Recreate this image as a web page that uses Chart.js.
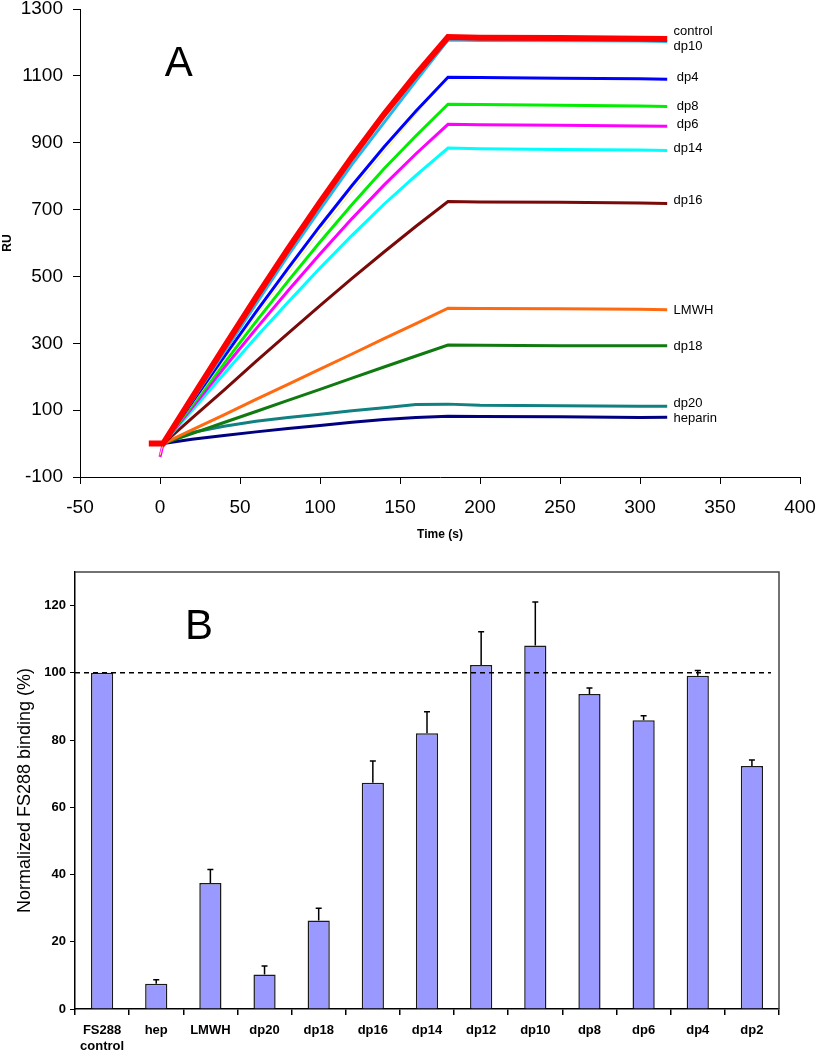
<!DOCTYPE html>
<html lang="en">
<head>
<meta charset="UTF-8">
<title>FS288 binding</title>
<script src="https://cdn.jsdelivr.net/npm/chart.js"></script>
<style>
  body { margin: 0; background: #fff; }
  canvas { display: block; }
</style>
</head>
<body>
<canvas id="sprChart" width="819" height="545"></canvas>
<canvas id="barChart" width="819" height="505"></canvas>
<script>
const FONT = '"Liberation Sans", Arial, sans-serif';

// Panel A: sensorgrams, time (s) vs response (RU)
const times   = [-7, 0, 2, 20, 40, 60, 80, 100, 120, 140, 160, 180, 200, 250, 300, 317];
const control = [0, 0, 0, 137, 288, 437, 582, 722, 857, 985, 1104, 1216, 1214, 1213, 1211, 1210];
const dp10    = [null, null, 0, 128, 272, 418, 562, 700, 835, 960, 1085, 1207, 1206, 1205, 1204, 1203];
const dp4     = [null, null, 0, 123, 259, 394, 524, 651, 772, 887, 995, 1096, 1095, 1093, 1091, 1090];
const dp12    = [null, -35, 0, 116, 248, 380, 508, 633, 755, 872, 985, 1094, 1093, 1092, 1090, 1089];
const dp8     = [null, null, 0, 114, 240, 365, 486, 603, 715, 822, 921, 1015, 1014, 1012, 1010, 1008];
const dp6     = [null, -40, 0, 107, 226, 343, 457, 567, 673, 773, 867, 955, 954, 952, 950, 949];
const dp14    = [null, null, 0, 99, 209, 318, 423, 525, 623, 716, 802, 884, 882, 880, 878, 877];
const dp16    = [null, null, 0, 76, 160, 246, 330, 413, 494, 573, 650, 724, 723, 722, 720, 718];
const lmwh    = [null, null, 0, 41, 86, 132, 177, 223, 268, 314, 359, 405, 404, 403, 402, 400];
const dp18    = [null, null, 0, 30, 63, 96, 129, 162, 196, 229, 262, 295, 294, 293, 293, 293];
const dp20    = [null, null, 0, 33, 52, 67, 78, 88, 98, 107, 117, 118, 115, 113, 112, 112];
const heparin = [null, null, 0, 13, 24, 35, 45, 54, 64, 72, 78, 82, 81, 80, 78, 79];

const seriesValues = [control, dp10, dp4, dp12, dp8, dp6, dp14, dp16, lmwh, dp18, dp20, heparin];
const seriesNames  = ['control', 'dp10', 'dp4', '', 'dp8', 'dp6', 'dp14', 'dp16', 'LMWH', 'dp18', 'dp20', 'heparin'];
const seriesColors = ['#ff0000', '#22b8ee', '#0000ff', '#f2ee7a', '#00ee00', '#ff00ff', '#00ffff',
                      '#7a0a0a', '#ff6a10', '#107a10', '#108080', '#000080'];
const seriesWidths = [6, 3, 3, 1, 3, 3, 3, 3, 3, 3, 3, 3];
// where the end labels sit (time, RU)
const labelTime = [321, 321, 323, 0, 323, 323, 321, 321, 321, 321, 321, 321];
const labelRU   = [1232, 1188, 1094, 0, 1009, 956, 883, 726, 398, 291, 121, 75];

// Panel B: normalized binding
const samples    = [['FS288', 'control'], 'hep', 'LMWH', 'dp20', 'dp18', 'dp16', 'dp14',
                    'dp12', 'dp10', 'dp8', 'dp6', 'dp4', 'dp2'];
const binding    = [100, 7.5, 37.5, 10.3, 26.3, 67.3, 82.0, 102.3, 108.1, 93.7, 85.9, 99.1, 72.3];
const bindingErr = [0, 1.2, 4.0, 2.5, 3.7, 6.5, 6.4, 9.9, 13.0, 1.8, 1.3, 1.6, 1.8];

const panelA = {
  id: 'panelA',
  afterDatasetsDraw(chart) {
    const { ctx, scales: { x, y } } = chart;
    ctx.save();
    ctx.fillStyle = '#000';
    ctx.textBaseline = 'middle';
    ctx.font = '13px ' + FONT;
    seriesNames.forEach((name, i) => {
      if (!name) return;
      ctx.fillText(name, x.getPixelForValue(labelTime[i]), y.getPixelForValue(labelRU[i]));
    });
    ctx.textBaseline = 'alphabetic';
    ctx.font = '42px ' + FONT;
    ctx.fillText('A', x.getPixelForValue(3), y.getPixelForValue(1100));
    ctx.restore();
  }
};

const panelB = {
  id: 'panelB',
  afterDatasetsDraw(chart) {
    const { ctx, chartArea: a, scales: { y } } = chart;
    const bars = chart.getDatasetMeta(0).data;
    ctx.save();
    ctx.strokeStyle = '#000';
    ctx.lineWidth = 1.5;
    bars.forEach((bar, i) => {
      if (!bindingErr[i]) return;
      const top = y.getPixelForValue(binding[i] + bindingErr[i]);
      ctx.beginPath();
      ctx.moveTo(bar.x, bar.y);
      ctx.lineTo(bar.x, top);
      ctx.moveTo(bar.x - 3, top);
      ctx.lineTo(bar.x + 3, top);
      ctx.stroke();
    });
    // reference line at 100 %
    const y100 = y.getPixelForValue(100);
    ctx.setLineDash([5, 4]);
    ctx.beginPath();
    ctx.moveTo(a.left, y100);
    ctx.lineTo(a.right - 8, y100);
    ctx.stroke();
    ctx.setLineDash([]);
    // frame top and right
    ctx.strokeStyle = '#444';
    ctx.beginPath();
    ctx.moveTo(a.left, a.top);
    ctx.lineTo(a.right, a.top);
    ctx.lineTo(a.right, a.bottom);
    ctx.stroke();
    ctx.fillStyle = '#000';
    ctx.font = '42px ' + FONT;
    ctx.fillText('B', a.left + 110, y.getPixelForValue(110));
    ctx.restore();
  }
};

new Chart(document.getElementById('sprChart'), {
  type: 'line',
  data: {
    datasets: seriesValues.map((vals, i) => ({
      label: seriesNames[i] || 'dp12',
      data: times.map((t, j) => ({ x: t, y: vals[j] })),
      borderColor: seriesColors[i],
      borderWidth: seriesWidths[i],
      pointRadius: 0,
      tension: 0,
      fill: false
    }))
  },
  options: {
    responsive: false,
    animation: false,
    layout: { autoPadding: false, padding: { top: 9, right: 19, left: 0, bottom: 0 } },
    plugins: { legend: { display: false }, tooltip: { enabled: false } },
    scales: {
      x: {
        type: 'linear', min: -50, max: 400,
        ticks: { stepSize: 50, color: '#000', font: { family: FONT, size: 19 }, padding: 12,
                 maxRotation: 0, callback: v => String(v) },
        grid: { drawOnChartArea: false, tickLength: 7, color: '#000' },
        border: { color: '#000', width: 1 },
        title: { display: true, text: 'Time (s)', color: '#000',
                 font: { family: FONT, size: 12, weight: 'bold' }, padding: { top: 0, bottom: 3 } },
        afterFit: s => { s.height = 68; s.paddingLeft = 0; s.paddingRight = 0; }
      },
      y: {
        min: -100, max: 1300,
        ticks: { stepSize: 200, color: '#000', font: { family: FONT, size: 19 }, padding: 10,
                 callback: v => String(v) },
        grid: { drawOnChartArea: false, tickLength: 7, color: '#000' },
        border: { color: '#000', width: 1 },
        title: { display: true, text: 'RU', color: '#000',
                 font: { family: FONT, size: 12, weight: 'bold' }, padding: { top: 0, bottom: 0 } },
        afterFit: s => { s.width = 80; s.paddingTop = 0; s.paddingBottom = 0; }
      }
    }
  },
  plugins: [panelA]
});

new Chart(document.getElementById('barChart'), {
  type: 'bar',
  data: {
    labels: samples,
    datasets: [{
      data: binding,
      backgroundColor: '#9999ff',
      borderColor: '#1a1a1a',
      borderWidth: 1.5,
      categoryPercentage: 1,
      barPercentage: 0.41
    }]
  },
  options: {
    responsive: false,
    animation: false,
    layout: { autoPadding: false, padding: { top: 27, right: 40, left: 0, bottom: 0 } },
    plugins: { legend: { display: false }, tooltip: { enabled: false } },
    scales: {
      x: {
        ticks: { color: '#000', font: { family: FONT, size: 13, weight: 'bold' }, padding: 8,
                 maxRotation: 0, autoSkip: false },
        grid: { offset: true, drawOnChartArea: false, tickLength: 6, color: '#000', lineWidth: 1.5 },
        border: { color: '#000', width: 1.5 },
        afterFit: s => { s.height = 41; }
      },
      y: {
        min: 0, max: 130,
        afterBuildTicks: s => { s.ticks = s.ticks.filter(t => t.value <= 120); },
        ticks: { stepSize: 20, color: '#000', font: { family: FONT, size: 13, weight: 'bold' }, padding: 4 },
        grid: { drawOnChartArea: false, tickLength: 5, color: '#000' },
        border: { color: '#000', width: 1.5 },
        title: { display: true, text: 'Normalized FS288 binding (%)', color: '#000',
                 font: { family: FONT, size: 18 }, padding: { top: 14, bottom: 0 } },
        afterFit: s => { s.width = 75; }
      }
    }
  },
  plugins: [panelB]
});
</script>
</body>
</html>
